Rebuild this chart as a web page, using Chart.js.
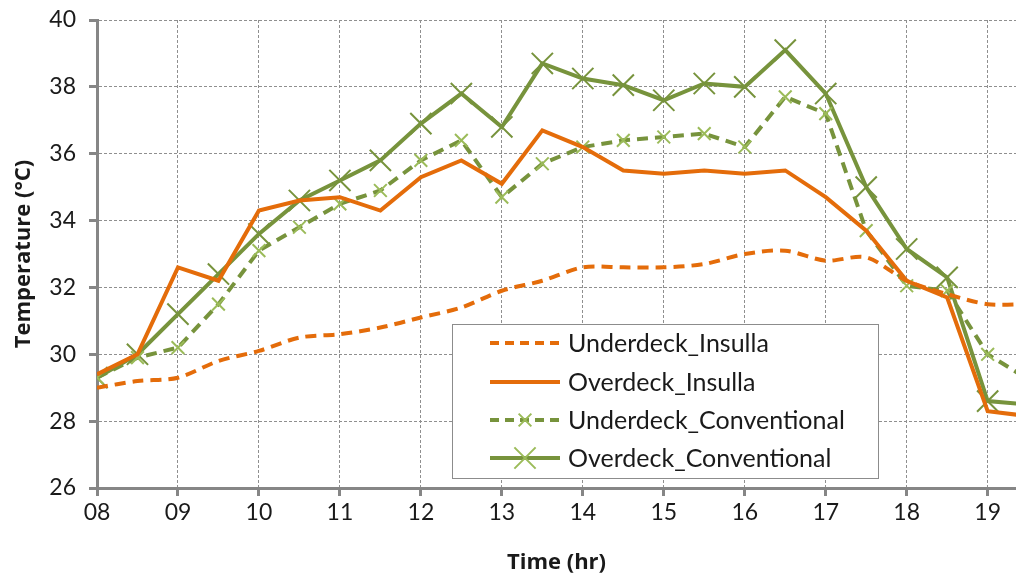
<!DOCTYPE html>
<html>
<head>
<meta charset="utf-8">
<script src="https://cdn.jsdelivr.net/npm/chart.js@4/dist/chart.umd.min.js"></script>
<style>
  html, body { margin: 0; padding: 0; background: #fff; }
  #wrap { width: 1016px; height: 577px; position: relative; }
</style>
</head>
<body>
<div id="wrap"><canvas id="tempChart" width="1016" height="577"></canvas></div>
<script>
// time of day, half-hourly
const hours = [8, 8.5, 9, 9.5, 10, 10.5, 11, 11.5, 12, 12.5, 13, 13.5,
               14, 14.5, 15, 15.5, 16, 16.5, 17, 17.5, 18, 18.5, 19, 19.5];

const underdeckInsulla = [29.0, 29.2, 29.3, 29.8, 30.1, 30.5, 30.6, 30.8, 31.1, 31.4, 31.9, 32.2,
                          32.6, 32.6, 32.6, 32.7, 33.0, 33.1, 32.8, 32.9, 32.2, 31.8, 31.5, 31.5];
const overdeckInsulla = [29.4, 30.0, 32.6, 32.2, 34.3, 34.6, 34.7, 34.3, 35.3, 35.8, 35.1, 36.7,
                         36.2, 35.5, 35.4, 35.5, 35.4, 35.5, 34.7, 33.7, 32.2, 31.7, 28.3, 28.15];
const underdeckConventional = [29.3, 29.9, 30.2, 31.5, 33.1, 33.8, 34.5, 34.9, 35.8, 36.4, 34.7, 35.7,
                               36.2, 36.4, 36.5, 36.6, 36.2, 37.7, 37.2, 33.7, 32.05, 31.9, 30.0, 29.25];
const overdeckConventional = [29.3, 30.0, 31.2, 32.4, 33.6, 34.6, 35.2, 35.8, 36.9, 37.8, 36.8, 38.7,
                              38.25, 38.05, 37.6, 38.1, 38.0, 39.1, 37.8, 35.0, 33.15, 32.3, 28.6, 28.5];

const seriesLabels = ['Underdeck_Insulla', 'Overdeck_Insulla', 'Underdeck_Conventional', 'Overdeck_Conventional'];
const yTicks = [26, 28, 30, 32, 34, 36, 38, 40];

const ORANGE = '#E46C0A';
const GREEN = '#77933C';
const LIGHT_GREEN = '#9BBB59';
const AXIS_GREY = '#868686';
const FONT = 'Lato, "Open Sans", sans-serif';
const TITLE_FONT = '"Open Sans", Lato, sans-serif';

function toPoints(values) {
    return values.map((v, i) => ({ x: hours[i], y: v }));
}

// legend drawn inside the plot like the original
const boxLegend = {
    id: 'boxLegend',
    afterDraw(chart) {
        const ctx = chart.ctx;
        const box = { x: 452, y: 324, w: 426, h: 154 };
        ctx.save();
        ctx.fillStyle = '#fff';
        ctx.fillRect(box.x, box.y, box.w, box.h);
        ctx.strokeStyle = '#8c8c8c';
        ctx.lineWidth = 1;
        ctx.strokeRect(box.x + 0.5, box.y + 0.5, box.w, box.h);

        const rows = [343, 382, 420, 458];
        chart.data.datasets.forEach((ds, i) => {
            const y = rows[i];
            ctx.save();
            ctx.strokeStyle = ds.borderColor;
            ctx.lineWidth = ds.borderWidth;
            ctx.setLineDash(ds.borderDash ? [9, 6] : []);
            ctx.beginPath();
            ctx.moveTo(490, y);
            ctx.lineTo(560, y);
            ctx.stroke();
            ctx.restore();
            if (ds.pointRadius > 0) {
                // legend keys use the light marker colour for both green series
                ctx.strokeStyle = LIGHT_GREEN;
                ctx.lineWidth = ds.pointBorderWidth;
                ctx.beginPath();
                const r = ds.pointRadius * Math.SQRT1_2;
                ctx.moveTo(525 - r, y - r); ctx.lineTo(525 + r, y + r);
                ctx.moveTo(525 - r, y + r); ctx.lineTo(525 + r, y - r);
                ctx.stroke();
            }
            ctx.fillStyle = '#1a1a1a';
            ctx.font = '25px ' + FONT;
            ctx.textBaseline = 'middle';
            ctx.fillText(ds.label, 568, y + 1);
        });
        ctx.restore();
    }
};

const ctx = document.getElementById('tempChart').getContext('2d');
new Chart(ctx, {
    type: 'line',
    data: {
        datasets: [
            {
                label: seriesLabels[0],
                data: toPoints(underdeckInsulla),
                borderColor: ORANGE,
                borderWidth: 4,
                borderDash: [11, 7],
                pointRadius: 0,
                tension: 0.3
            },
            {
                label: seriesLabels[1],
                data: toPoints(overdeckInsulla),
                borderColor: ORANGE,
                borderWidth: 4,
                pointRadius: 0,
                tension: 0
            },
            {
                label: seriesLabels[2],
                data: toPoints(underdeckConventional),
                borderColor: GREEN,
                borderWidth: 4,
                borderDash: [11, 7],
                pointStyle: 'crossRot',
                pointRadius: 9,
                pointBorderWidth: 2,
                pointBorderColor: LIGHT_GREEN,
                pointBackgroundColor: LIGHT_GREEN,
                tension: 0
            },
            {
                label: seriesLabels[3],
                data: toPoints(overdeckConventional),
                borderColor: GREEN,
                borderWidth: 4,
                pointStyle: 'crossRot',
                pointRadius: 15,
                pointBorderWidth: 2,
                pointBorderColor: GREEN,
                pointBackgroundColor: GREEN,
                tension: 0
            }
        ]
    },
    options: {
        responsive: false,
        animation: false,
        devicePixelRatio: 1,
        layout: { autoPadding: false, padding: { top: 20, left: 0, right: 0, bottom: 0 } },
        plugins: {
            legend: { display: false },
            tooltip: { enabled: false }
        },
        scales: {
            x: {
                type: 'linear',
                min: 8,
                max: 19.35,
                afterFit(scale) {
                    scale.height = 89;
                    scale.paddingLeft = 0;
                    scale.paddingRight = 0;
                },
                ticks: {
                    stepSize: 1,
                    includeBounds: false,
                    padding: 3,
                    color: '#1a1a1a',
                    font: { family: FONT, size: 23 },
                    maxRotation: 0,
                    callback: v => String(v).padStart(2, '0')
                },
                grid: {
                    color: '#8f8f8f',
                    lineWidth: 1,
                    tickLength: 8,
                    tickColor: AXIS_GREY,
                    tickWidth: 3
                },
                border: { color: AXIS_GREY, width: 3, dash: [3, 2] },
                title: {
                    display: true,
                    text: 'Time (hr)',
                    color: '#1a1a1a',
                    font: { family: TITLE_FONT, size: 22, weight: 'bold' },
                    padding: { top: 0, bottom: 1 }
                }
            },
            y: {
                min: 26,
                max: 40,
                afterFit(scale) {
                    scale.width = 97;
                    scale.paddingTop = 0;
                    scale.paddingBottom = 0;
                },
                afterBuildTicks(scale) { scale.ticks = yTicks.map(v => ({ value: v })); },
                ticks: {
                    padding: 13,
                    color: '#1a1a1a',
                    font: { family: FONT, size: 23 }
                },
                grid: {
                    color: '#8f8f8f',
                    lineWidth: 1,
                    tickLength: 8,
                    tickColor: AXIS_GREY,
                    tickWidth: 3
                },
                border: { color: AXIS_GREY, width: 3, dash: [3, 2] },
                title: {
                    display: true,
                    text: 'Temperature (°C)',
                    color: '#1a1a1a',
                    font: { family: TITLE_FONT, size: 22, weight: 'bold' },
                    padding: { top: 11, bottom: 0 }
                }
            }
        }
    },
    plugins: [boxLegend]
});
</script>
</body>
</html>
